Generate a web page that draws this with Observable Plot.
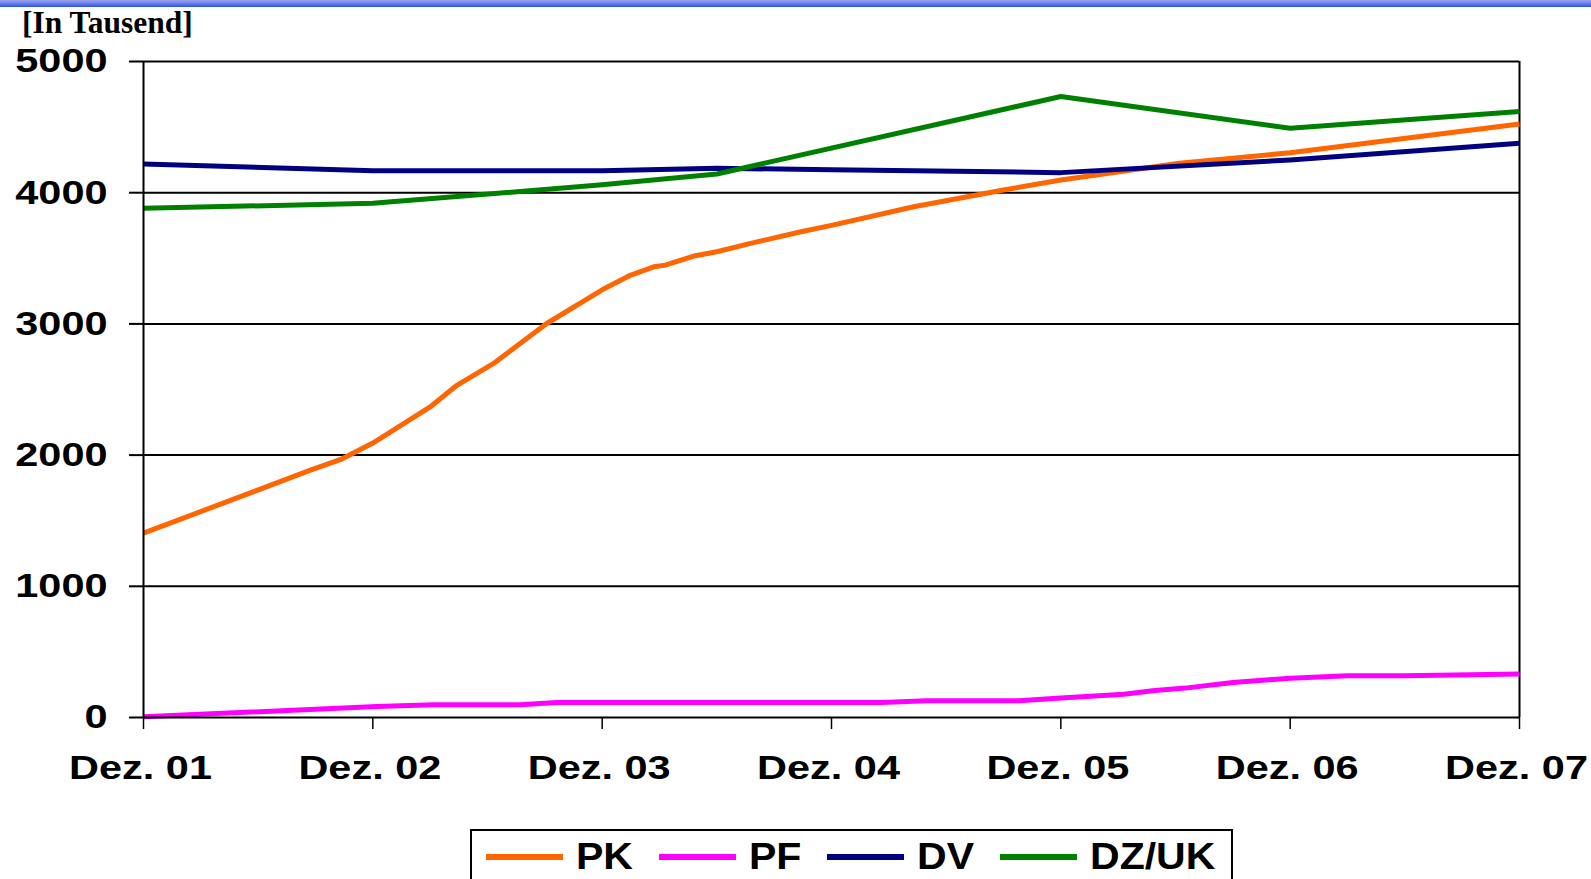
<!DOCTYPE html>
<html>
<head>
<meta charset="utf-8">
<script src="https://cdn.jsdelivr.net/npm/d3@7"></script>
<script src="https://cdn.jsdelivr.net/npm/@observablehq/plot@0.6"></script>
<style>
  html, body { margin: 0; padding: 0; background: #fff; }
  #wrap { position: relative; width: 1591px; height: 879px; overflow: hidden; background: #fff; }
  #band { position: absolute; left: 0; top: 0; width: 1591px; height: 7px; z-index: 3;
          background: linear-gradient(to bottom, #9aa6ee 0%, #6f83ea 45%, #3052dc 100%); }
  #title { position: absolute; left: 22px; top: 7px; z-index: 2; font-family: "Liberation Serif", "DejaVu Serif", serif;
           font-weight: bold; font-size: 31.5px; line-height: 32px; color: #000; white-space: nowrap; }
  #chart { position: absolute; left: 0; top: 0; }
  #legend { position: absolute; left: 470px; top: 829px; width: 759px; height: 70px; border: 2px solid #000;
            box-sizing: content-box; background: #fff; display: flex; align-items: flex-start; }
  #legend .items { display: flex; align-items: center; padding-left: 14px; padding-top: 7.5px; height: 36px; }
  #legend .item { display: flex; align-items: center; margin-right: 32.5px; }
  #legend .sw { width: 77px; height: 6px; margin-right: 13px; }
  #legend .lb { font-family: "Liberation Sans", Arial, sans-serif; font-weight: bold; font-size: 36px;
                line-height: 36px; color: #000; white-space: nowrap; transform: scaleX(1.14); transform-origin: 0 50%; }
</style>
</head>
<body>
<div id="wrap">
  <div id="band"></div>
  <div id="title">[In Tausend]</div>
  <div id="chart"></div>
  <div id="legend"><div class="items" id="legendItems"></div></div>
</div>
<script>
// ---- Data (months after Dez. 01, values in thousands) ----
const xTickMonths = [0, 12, 24, 36, 48, 60, 72];
const xTickLabels = ["Dez. 01", "Dez. 02", "Dez. 03", "Dez. 04", "Dez. 05", "Dez. 06", "Dez. 07"];
const yTicks = [0, 1000, 2000, 3000, 4000, 5000];

const seriesNames = ["PK", "PF", "DV", "DZ/UK"];
const seriesColors = ["#ff6600", "#ff00ff", "#000080", "#008000"];

const pkMonths = [0, 8.7, 10.4, 12, 15, 16.4, 18.3, 21.1, 24, 25.5, 26.7, 27.3, 28.8, 30, 31.6, 34.4, 36, 40.3, 45, 48, 54.2, 60, 72];
const pkValues = [1405, 1883, 1972, 2092, 2367, 2532, 2697, 3003, 3260, 3372, 3435, 3448, 3517, 3550, 3608, 3702, 3751, 3893, 4021, 4097, 4224, 4305, 4524];

const pfMonths = [0, 12.2, 15.2, 19.7, 21.6, 38.6, 41, 45.8, 48, 51.3, 52.8, 54.5, 57, 60, 63, 66, 72];
const pfValues = [5, 84, 97, 97, 115, 115, 127, 127, 148, 178, 204, 224, 267, 300, 318, 318, 331];

const dvMonths = [0, 12, 24, 30, 36, 48, 60, 72];
const dvValues = [4219, 4168, 4168, 4186, 4175, 4153, 4250, 4377];

const dzMonths = [0, 12, 24, 30, 48, 60, 72];
const dzValues = [3881, 3919, 4060, 4143, 4733, 4491, 4618];

// ---- Build table ----
const seriesMonths = [pkMonths, pfMonths, dvMonths, dzMonths];
const seriesValues = [pkValues, pfValues, dvValues, dzValues];
const rows = [];
seriesNames.forEach((name, s) => {
  seriesMonths[s].forEach((m, i) => rows.push({series: name, month: m, value: seriesValues[s][i]}));
});

const font = "'Liberation Sans', Arial, sans-serif";

const plot = Plot.plot({
  width: 1591,
  height: 800,
  marginLeft: 143,
  marginRight: 72,
  marginTop: 61,
  marginBottom: 83,
  style: {fontFamily: font, fontWeight: "bold", fontSize: "34px", color: "#000", background: "transparent", overflow: "visible"},
  x: {type: "linear", domain: [0, 72]},
  y: {domain: [0, 5000]},
  color: {domain: seriesNames, range: seriesColors},
  marks: [
    Plot.ruleY(yTicks.filter(d => d > 0), {stroke: "#000", strokeWidth: 2}),
    Plot.ruleX([72], {y1: 0, y2: 5000, stroke: "#000", strokeWidth: 2}),
    Plot.line(rows, {x: "month", y: "value", z: "series", stroke: "series", strokeWidth: 5, strokeLinejoin: "round", strokeLinecap: "butt"}),
    Plot.ruleX([0], {y1: 0, y2: 5000, stroke: "#000", strokeWidth: 2}),
    Plot.ruleY([0], {stroke: "#000", strokeWidth: 2}),
    Plot.axisX({ticks: xTickMonths, tickFormat: d => xTickLabels[xTickMonths.indexOf(d)], tickSize: 12, tickPadding: 25,
                fontSize: 34, fontWeight: "bold", stroke: "#000", strokeWidth: 1.5, fill: "#000", label: null}),
    Plot.axisY({ticks: yTicks, tickFormat: d => String(d), tickSize: 14, tickPadding: 22,
                fontSize: 34, fontWeight: "bold", stroke: "#000", strokeWidth: 2, fill: "#000", label: null})
  ]
});
document.getElementById("chart").appendChild(plot);

// widen lettering horizontally (original glyphs are stretched)
function stretch(sel, s, dx) {
  d3.select(plot).selectAll(sel).each(function() {
    const t = this.getAttribute("transform") || "";
    this.setAttribute("transform", t + ` translate(${dx},0) scale(${s},1)`);
  });
}
stretch('[aria-label="x-axis tick label"] text', 1.22, -3);
stretch('[aria-label="y-axis tick label"] text', 1.22, 0);

// ---- Legend ----
const li = d3.select("#legendItems");
seriesNames.forEach((name, i) => {
  const it = li.append("div").attr("class", "item");
  it.append("div").attr("class", "sw").style("background", seriesColors[i]);
  it.append("div").attr("class", "lb").text(name);
});
</script>
</body>
</html>
